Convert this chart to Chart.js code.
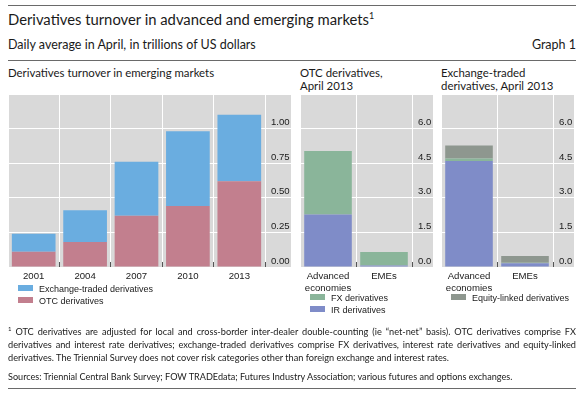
<!DOCTYPE html>
<html>
<head>
<meta charset="utf-8">
<script src="https://cdn.jsdelivr.net/npm/chart.js@4.4.0/dist/chart.umd.min.js"></script>
<style>
  body { margin: 0; background: #fff; width: 584px; height: 393px; position: relative; overflow: hidden; font-family: "Lato", sans-serif; color: #1a1a1a; }
  .abs { position: absolute; white-space: nowrap; }
  .rule { position: absolute; left: 8px; width: 568px; height: 0; border-top: 1px solid #6a6a6a; }
  .ptitle { font-size: 11.4px; line-height: 13px; }
  .legend { position: absolute; font-family: "Liberation Sans", Arial, sans-serif; font-size: 9px; color: #1a1a1a; }
  .legend div { height: 12px; line-height: 12px; white-space: nowrap; }
  .legend span.box { display: inline-block; width: 15px; height: 6px; margin-right: 6px; vertical-align: 1px; }
  .foot div { text-align: justify; text-align-last: justify; white-space: normal; }
  .foot div.last { text-align-last: left; }
  canvas { position: absolute; }
</style>
</head>
<body>
<div class="rule" style="top:5px"></div>
<div class="abs" style="left:8px; top:10px; font-size:14.8px;">Derivatives turnover in advanced and emerging markets<sup style="font-size:9px">1</sup></div>
<div class="abs" style="left:8px; top:37px; font-size:12.5px;">Daily average in April, in trillions of US dollars</div>
<div class="abs" style="right:8px; top:37px; font-size:12.5px;">Graph 1</div>
<div class="rule" style="top:60px"></div>
<div class="abs ptitle" style="left:8px; top:66px;">Derivatives turnover in emerging markets</div>
<div class="abs ptitle" style="left:300px; top:66px;">OTC derivatives,<br>April 2013</div>
<div class="abs ptitle" style="left:441px; top:66px;">Exchange-traded<br>derivatives, April 2013</div>

<canvas id="emeChart" width="300" height="215" style="left:0px; top:88px"></canvas>
<canvas id="otcChart" width="150" height="215" style="left:292px; top:88px"></canvas>
<canvas id="etChart" width="150" height="215" style="left:433px; top:88px"></canvas>

<div class="legend" id="emeLegend" style="left:18px; top:283px"></div>
<div class="legend" id="otcLegend" style="left:310px; top:292px"></div>
<div class="legend" id="etLegend" style="left:451px; top:292px"></div>

<div class="abs foot" style="left:8px; top:322px; width:568px; font-size:9.2px; line-height:13px;">
  <div><sup style="font-size:6px">1</sup> OTC derivatives are adjusted for local and cross-border inter-dealer double-counting (ie “net-net” basis). OTC derivatives comprise FX</div>
  <div>derivatives and interest rate derivatives; exchange-traded derivatives comprise FX derivatives, interest rate derivatives and equity-linked</div>
  <div class="last">derivatives. The Triennial Survey does not cover risk categories other than foreign exchange and interest rates.</div>
</div>
<div class="abs" style="left:8px; top:371px; font-size:9.1px;">Sources: Triennial Central Bank Survey; FOW TRADEdata; Futures Industry Association; various futures and options exchanges.</div>
<div class="rule" style="top:388px"></div>

<script>
// emerging markets turnover, trn USD
const years = ['2001', '2004', '2007', '2010', '2013'];
const emeOtc = [0.11, 0.18, 0.37, 0.44, 0.62];
const emeExchange = [0.13, 0.23, 0.39, 0.54, 0.48];

// April 2013 by region
const regions = [['Advanced', 'economies'], 'EMEs'];
const otcIr = [2.28, 0.06];
const otcFx = [2.75, 0.59];
const etIr = [4.59, 0.16];
const etFx = [0.11, 0.02];
const etEquity = [0.57, 0.30];

const emeTicks = ['0.00', '0.25', '0.50', '0.75', '1.00'];
const regionTicks = ['0.0', '1.5', '3.0', '4.5', '6.0'];

const colExchange = '#6aade0';
const colOtc = '#c27f8e';
const colFx = '#8ab59a';
const colIr = '#7f8cc8';
const colEquity = '#8e978f';

const axisFont = { family: 'Liberation Sans', size: 9.6 };

const grayBg = {
    id: 'grayBg',
    beforeDraw(chart) {
        const { ctx, chartArea, scales } = chart;
        ctx.save();
        ctx.fillStyle = '#d9d9d9';
        ctx.fillRect(chartArea.left, chartArea.top, scales.y.right - chartArea.left, chartArea.bottom - chartArea.top);
        ctx.restore();
    }
};

function barSet(label, data, color) {
    return {
        label: label,
        data: data,
        backgroundColor: color,
        borderWidth: 0,
        categoryPercentage: 1,
        barPercentage: 0.85
    }
}

function setupChart(id, labels, datasets, max, step, tickLabels, axisWidth, padRight) {
    return new Chart(document.getElementById(id).getContext('2d'), {
        type: 'bar',
        data: { labels: labels, datasets: datasets },
        plugins: [grayBg],
        options: {
            responsive: false,
            animation: false,
            layout: { padding: { left: 8, right: padRight, top: 6, bottom: 0 } },
            plugins: { legend: { display: false }, tooltip: { enabled: false } },
            scales: {
                x: {
                    stacked: true,
                    border: { display: false },
                    grid: {
                        offset: true,
                        color: '#ffffff',
                        lineWidth: 1,
                        drawTicks: true,
                        tickLength: -5,
                        tickColor: ctx => ctx.index === 0 ? 'rgba(0,0,0,0)' : '#555555'
                    },
                    ticks: { font: axisFont, color: '#1a1a1a', padding: 9, maxRotation: 0 },
                    afterFit: scale => { scale.height = 36 }
                },
                y: {
                    stacked: true,
                    position: 'right',
                    min: 0,
                    max: max,
                    border: { display: false },
                    grid: { color: '#ffffff', lineWidth: 1, tickLength: axisWidth, tickColor: '#ffffff' },
                    ticks: {
                        stepSize: step,
                        font: axisFont,
                        color: '#1a1a1a',
                        padding: 6 - axisWidth,
                        labelOffset: -6,
                        callback: (v, i) => tickLabels[i] !== undefined ? tickLabels[i] : ''
                    },
                    afterFit: scale => { scale.width = axisWidth }
                }
            }
        }
    });
}

function makeLegend(id, items) {
    document.getElementById(id).innerHTML = items.map(it =>
        '<div><span class="box" style="background:' + it[1] + '"></span>' + it[0] + '</div>').join('');
}

setupChart('emeChart', years, [
    barSet('OTC derivatives', emeOtc, colOtc),
    barSet('Exchange-traded derivatives', emeExchange, colExchange)
], 1.25, 0.25, emeTicks, 26, 9);

setupChart('otcChart', regions, [
    barSet('IR derivatives', otcIr, colIr),
    barSet('FX derivatives', otcFx, colFx)
], 7.5, 1.5, regionTicks, 21, 9);

setupChart('etChart', regions, [
    barSet('IR derivatives', etIr, colIr),
    barSet('FX derivatives', etFx, colFx),
    barSet('Equity-linked derivatives', etEquity, colEquity)
], 7.5, 1.5, regionTicks, 21, 9);

makeLegend('emeLegend', [['Exchange-traded derivatives', colExchange], ['OTC derivatives', colOtc]]);
makeLegend('otcLegend', [['FX derivatives', colFx], ['IR derivatives', colIr]]);
makeLegend('etLegend', [['Equity-linked derivatives', colEquity]]);
</script>
</body>
</html>
